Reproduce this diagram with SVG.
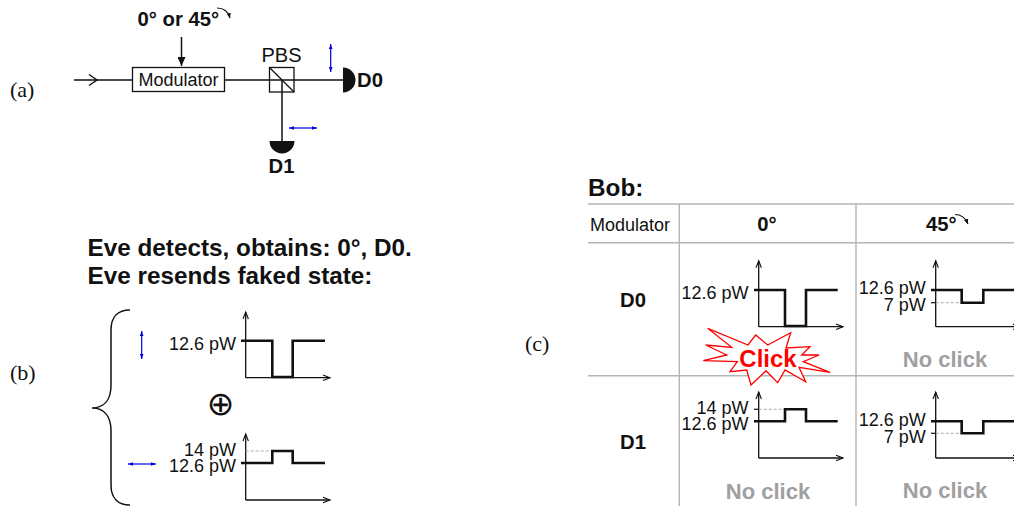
<svg xmlns="http://www.w3.org/2000/svg" width="1014" height="506" viewBox="0 0 1014 506">
<style>
text{font-family:"Liberation Sans",Arial,sans-serif;fill:#111}
.t{font-size:18px}
.r{font-size:18px;text-anchor:end}
.b{font-size:20.300px;font-weight:bold}
.h{font-size:24.300px;font-weight:bold}
.m{text-anchor:middle}
.g{fill:#a0a0a0;font-size:22px;font-weight:bold;text-anchor:middle}
.p{font-family:"Liberation Serif","Times New Roman",serif;font-size:22px}
.l{fill:none;stroke:#111;stroke-width:1.5}
.ax{fill:none;stroke:#111;stroke-width:1.3;marker-end:url(#open)}
.s{fill:none;stroke:#111;stroke-width:2.6}
.d{fill:none;stroke:#aaa;stroke-width:1;stroke-dasharray:3 2}
.k{stroke:#111;stroke-width:1.2}
.bl{fill:none;stroke:#0000e0;stroke-width:1.2;marker-start:url(#blue);marker-end:url(#blue)}
.gr{fill:none;stroke:#b5b5b5;stroke-width:1.4}
.c{fill:none;stroke:#111;stroke-width:1.2;marker-end:url(#small)}
</style>
<defs>
<marker id="open" markerUnits="userSpaceOnUse" markerWidth="12" markerHeight="10" refX="9" refY="5" orient="auto"><path d="M2,2.300 L9,5 L2,7.700" fill="none" stroke="#111" stroke-width="1.1"/></marker>
<marker id="blue" markerUnits="userSpaceOnUse" markerWidth="8" markerHeight="6" refX="5" refY="3" orient="auto-start-reverse"><path d="M0,1.200 L5,3 L0,4.800 Z" fill="#0000e0"/></marker>
<marker id="solid" markerUnits="userSpaceOnUse" markerWidth="10" markerHeight="8" refX="9" refY="4" orient="auto"><path d="M0,0 L9,4 L0,8 Z" fill="#111"/></marker>
<marker id="small" markerUnits="userSpaceOnUse" markerWidth="6" markerHeight="6" refX="5" refY="3" orient="auto"><path d="M0,0.800 L5,3 L0,5.200 Z" fill="#111"/></marker>
</defs>

<g id="connectors">
<path class="l" d="M74,80H132M224,80H343M282,80V141"/>
<path class="l" d="M89,74.500L97,80L89,85.500"/>
<path class="l" d="M181.500,37V66" marker-end="url(#solid)"/>
<path class="bl" d="M330.700,44V72"/>
<path class="bl" d="M289,128H317"/>
<path class="bl" d="M141.700,331V359"/>
<path class="bl" d="M128,464H156"/>
<path fill="none" stroke="#111" stroke-width="1.5" d="M130,310C118,310 111,317 111,330V385C111,400 104,408 92,408C104,408 111,416 111,431V485C111,498 118,505 130,505"/>
</g>

<g id="label-a"><text class="p" x="10" y="97">(a)</text></g>
<g id="label-b"><text class="p" x="10" y="380">(b)</text></g>
<g id="label-c"><text class="p" x="525" y="351">(c)</text></g>

<g id="setting">
<text class="b" x="137.500" y="26">0° or 45°</text>
<path class="c" d="M217,8C223,8 228,11 230,18"/>
</g>
<g id="modulator">
<rect x="132.500" y="67.500" width="92" height="24" fill="#fff" stroke="#111" stroke-width="1.3"/>
<text class="t m" x="178.500" y="86">Modulator</text>
</g>
<g id="pbs">
<rect x="269.500" y="67.500" width="24.500" height="24.500" fill="none" stroke="#111" stroke-width="1.3"/>
<path d="M269.500,67.500L294,92" stroke="#111" stroke-width="1.2"/>
<text x="281.500" y="62" text-anchor="middle" style="font-size:20px">PBS</text>
</g>
<g id="d0">
<path d="M343,67.500A12.500,12.500 0 0 1 343,92.500Z" fill="#111"/>
<text class="b" x="357" y="87">D0</text>
</g>
<g id="d1">
<path d="M269.500,141A12.500,12.500 0 0 0 294.500,141Z" fill="#111"/>
<text class="b" x="268.500" y="173">D1</text>
</g>

<g id="eve">
<text class="h" x="87.500" y="256">Eve detects, obtains: 0°, D0.</text>
<text class="h" x="87.500" y="284.300">Eve resends faked state:</text>
</g>
<g id="chart-b1">
<path class="ax" d="M245.700,377.700V312"/><path class="ax" d="M245.700,377.700H330"/>
<path class="s" d="M241,340.700H272.300V377H292.700V340.700H325"/>
<text class="r" x="236" y="350">12.6 pW</text>
</g>
<text id="xor" x="220.700" y="415" text-anchor="middle" style="font-family:'DejaVu Sans',sans-serif;font-size:33px">⊕</text>
<g id="chart-b2">
<path class="ax" d="M245.700,500V434"/><path class="ax" d="M245.700,500H330"/>
<path class="d" d="M245.700,451H272"/>
<path class="s" d="M241,463H272.300V451H292.700V463H325"/>
<text class="r" x="236" y="455.700">14 pW</text>
<text class="r" x="236" y="472.300">12.6 pW</text>
</g>

<g id="table">
<text class="h" x="588" y="196">Bob:</text>
<path class="gr" d="M588,204H1014M588,242.700H1014M588,375.700H1014M679.300,204V506M856,204V506"/>
<text class="t" x="590" y="231">Modulator</text>
<text class="b m" x="767" y="231">0°</text>
<text class="b" x="926" y="231">45°</text>
<path class="c" d="M955,214.500C961,214.500 965,217 968,224"/>
<text class="b m" x="633" y="307">D0</text>
<text class="b m" x="633" y="449">D1</text>
</g>
<g id="chart-c1">
<path class="ax" d="M758.700,326.700V260.700"/><path class="ax" d="M758.700,326.700H843"/>
<path class="s" d="M754,290H785V326H806V290H837.700"/>
<text class="r" x="748.500" y="299.300">12.6 pW</text>
</g>
<g id="chart-c2">
<path class="ax" d="M935.700,326.700V260.700"/><path class="ax" d="M935.700,326.700H1020"/>
<path class="d" d="M935.700,302.700H962"/>
<path class="k" d="M931,302.700H936"/>
<path class="s" d="M931,290H961.700V302.700H983.300V290H1016"/>
<text class="r" x="925.700" y="294">12.6 pW</text>
<text class="r" x="925.700" y="310.700">7 pW</text>
</g>
<g id="chart-c3">
<path class="ax" d="M758.700,458V392"/><path class="ax" d="M758.700,458H843"/>
<path class="d" d="M758.700,409.300H785"/>
<path class="k" d="M754,409.300H759"/>
<path class="s" d="M754,421.300H785V409.300H806V421.300H837.700"/>
<text class="r" x="748.500" y="414">14 pW</text>
<text class="r" x="748.500" y="430">12.6 pW</text>
</g>
<g id="chart-c4">
<path class="ax" d="M935.700,458V392"/><path class="ax" d="M935.700,458H1020"/>
<path class="d" d="M935.700,433.300H962"/>
<path class="k" d="M931,433.300H936"/>
<path class="s" d="M931,421.300H961.700V433.300H983.300V421.300H1016"/>
<text class="r" x="925.700" y="426">12.6 pW</text>
<text class="r" x="925.700" y="442.700">7 pW</text>
</g>
<g id="click">
<polygon points="707.700,328.300 748,345 755.700,335 767.700,345 790.700,332.700 786,348 810,346.700 801.700,355 819,355 803.300,361.700 830,372.300 799,367.300 805.700,381.700 785,370 777.700,382.700 766,370.700 751,385 746.700,370 730,371.700 737.300,361.700 703.300,360.700 726.700,355 705.700,345 731.700,347.300" fill="#fff" stroke="#f00" stroke-width="1.300"/>
<text x="768" y="366.500" text-anchor="middle" style="fill:#f00;font-size:24px;font-weight:bold">Click</text>
</g>
<text class="g" x="945" y="367">No click</text>
<text class="g" x="768" y="499">No click</text>
<text class="g" x="945" y="498">No click</text>
</svg>
